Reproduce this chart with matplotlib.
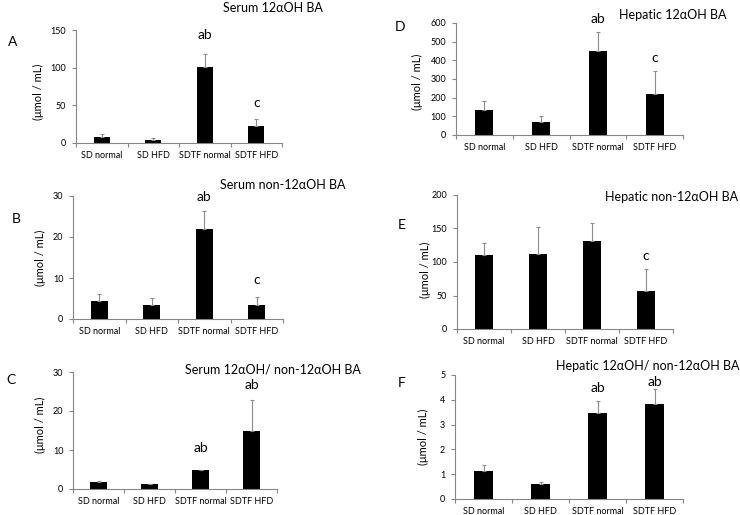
import matplotlib
matplotlib.use("Agg")
import matplotlib.pyplot as plt

plt.rcParams['font.family'] = ['Lato', 'DejaVu Sans']

groups = ["SD normal", "SD HFD", "SDTF normal", "SDTF HFD"]

# panel values (mean, upper error)
serum_12_mean = [8.5, 3.5, 100.5, 22.5]
serum_12_err = [3.5, 2.5, 17.5, 10]
serum_non_mean = [4.5, 3.4, 22, 3.4]
serum_non_err = [1.5, 1.8, 4.3, 1.9]
serum_ratio_mean = [1.9, 1.2, 4.8, 15]
serum_ratio_err = [0.2, 0.1, 0.2, 7.8]
hep_12_mean = [132, 71, 450, 221]
hep_12_err = [48, 33, 100, 124]
hep_non_mean = [110, 112.5, 132, 57]
hep_non_err = [18, 40, 26.5, 32]
hep_ratio_mean = [1.13, 0.59, 3.48, 3.82]
hep_ratio_err = [0.24, 0.11, 0.48, 0.60]

sig_A = ["", "", "ab", "c"]
sig_B = ["", "", "ab", "c"]
sig_C = ["", "", "ab", "ab"]
sig_D = ["", "", "ab", "c"]
sig_E = ["", "", "", "c"]
sig_F = ["", "", "ab", "ab"]

W, H = 740, 515
fig = plt.figure(figsize=(W / 100, H / 100), dpi=100)

grey = '#868686'


def px(x, y):
    return x / W, 1 - y / H


def panel(box, means, errs, sig, gaps, ymax, ystep, letter, letter_xy,
          title, title_xy, ylab_xy, title_ha='center'):
    left, top, right, bottom = box
    ax = fig.add_axes([left / W, 1 - bottom / H, (right - left) / W, (bottom - top) / H])
    xs = [i + 0.5 for i in range(len(groups))]
    ax.bar(xs, means, width=0.32, color='black')
    ax.errorbar(xs, means, yerr=[[0] * len(errs), errs], fmt='none',
                ecolor='#8c8c8c', elinewidth=0.8, capsize=1.5, capthick=0.8)
    for x, m, e, s, g in zip(xs, means, errs, sig, gaps):
        if s:
            # gap above the error bar, in pixels
            ax.annotate(s, (x, m + e), xytext=(0, g * 0.72), textcoords='offset points',
                        ha='center', va='center', fontsize=10)
    ax.set_xlim(0, len(groups))
    ax.set_ylim(0, ymax)
    ax.set_yticks([v * ystep for v in range(int(round(ymax / ystep)) + 1)])
    ax.set_xticks(range(len(groups) + 1))
    ax.set_xticklabels([])
    ax.set_xticks(xs, minor=True)
    ax.set_xticklabels(groups, minor=True, fontsize=6.5)
    ax.tick_params(axis='x', which='minor', length=0, pad=6)
    ax.tick_params(axis='x', which='major', length=3, color=grey, width=0.8)
    ax.tick_params(axis='y', length=3, color=grey, width=0.8, labelsize=6.5, pad=4)
    for sp in ['top', 'right']:
        ax.spines[sp].set_visible(False)
    for sp in ['left', 'bottom']:
        ax.spines[sp].set_color(grey)
        ax.spines[sp].set_linewidth(0.8)
    fig.text(*px(*letter_xy), letter, ha='center', va='center', fontsize=10)
    fig.text(*px(*title_xy), title, ha=title_ha, va='center', fontsize=9)
    fig.text(*px(*ylab_xy), "(μmol / mL)", ha='center', va='center',
             rotation=90, fontsize=8)
    return ax


panel((76, 30, 282, 143), serum_12_mean, serum_12_err, sig_A, [0, 0, 19, 16], 150, 50,
      "A", (13, 42), "Serum 12αOH BA", (273, 8), (38, 92))
panel((73, 196, 283, 319), serum_non_mean, serum_non_err, sig_B, [0, 0, 14, 17], 30, 10,
      "B", (16, 219), "Serum non-12αOH BA", (283, 185), (40, 258))
panel((73, 372, 277, 489), serum_ratio_mean, serum_ratio_err, sig_C, [0, 0, 21, 15], 30, 10,
      "C", (11, 380), "Serum 12αOH/ non-12αOH BA", (273, 370), (40, 425))
panel((456, 23, 683, 135), hep_12_mean, hep_12_err, sig_D, [0, 0, 13, 13], 600, 100,
      "D", (400, 27), "Hepatic 12αOH BA", (673, 15), (417, 82))
panel((457, 195, 673, 329), hep_non_mean, hep_non_err, sig_E, [0, 0, 0, 13], 200, 50,
      "E", (402, 225), "Hepatic non-12αOH BA", (672, 197), (425, 270))
panel((455, 375, 683, 499), hep_ratio_mean, hep_ratio_err, sig_F, [0, 0, 13, 7], 5, 1,
      "F", (402, 383), "Hepatic 12αOH/ non-12αOH BA", (739, 366), (423, 437),
      title_ha='right')

fig.savefig("out.png", dpi=100)
